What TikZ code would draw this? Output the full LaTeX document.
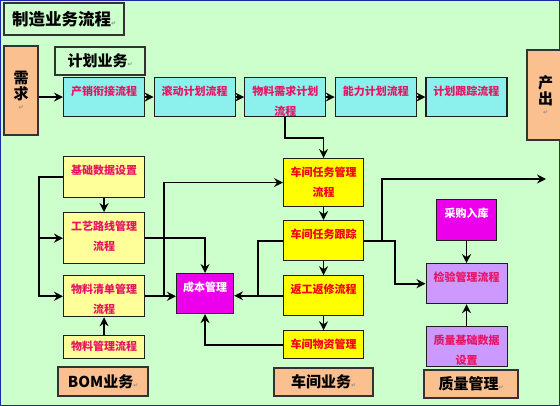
\documentclass[tikz,border=0pt]{standalone}
\usepackage{fontspec}
\setmainfont{Noto Sans CJK SC}
\newfontfamily\symfont{DejaVu Sans}
\usepackage{xcolor}
\usetikzlibrary{positioning,arrows.meta,calc}

\definecolor{bggreen}{RGB}{204,255,204}
\definecolor{planfill}{RGB}{140,240,236}
\definecolor{bomfill}{RGB}{255,255,153}
\definecolor{shopfill}{RGB}{255,255,0}
\definecolor{costfill}{RGB}{236,0,236}
\definecolor{qualfill}{RGB}{204,153,255}
\definecolor{tagfill}{RGB}{250,192,144}
\definecolor{pinktext}{RGB}{232,20,100}
\definecolor{redtext}{RGB}{245,0,20}
\definecolor{edge}{RGB}{30,30,30}
\definecolor{frameblue}{RGB}{30,40,170}

\newcommand{\ret}{{\symfont\fontsize{6}{6}\selectfont\color{black!45}↵}}

\begin{document}
\begin{tikzpicture}[
      x=1pt, y=-1pt,
      font=\bfseries,
      box/.style={draw=edge, line width=1.1pt, anchor=north west, inner sep=0pt},
      txt/.style={anchor=north, yshift=-8.5pt, align=center, inner sep=0pt,
        font=\fontsize{11}{20}\selectfont\bfseries},
      plan/.style={box, fill=planfill, minimum width=81pt, minimum height=39pt},
      plantxt/.style={txt, text=pinktext},
      bom/.style={box, fill=bomfill, minimum width=81pt},
      bomtxt/.style={txt, text=pinktext},
      shop/.style={box, fill=shopfill, minimum width=80pt},
      shoptxt/.style={txt, text=redtext},
      qual/.style={box, fill=qualfill, minimum width=81pt, minimum height=40pt},
      qualtxt/.style={txt, text=pinktext},
      cost/.style={box, fill=costfill},
      costtxt/.style={txt, text=white},
      tag/.style={draw=black!80, line width=2.2pt, anchor=north west, inner sep=0pt,
        font=\fontsize{15}{15}\selectfont\bfseries},
      flow/.style={line width=1.8pt, -{Stealth[length=9pt, width=9pt, inset=3pt]}},
      link/.style={line width=1.8pt},
    ]

    % page and frame
    \useasboundingbox (0,0) rectangle (560,406);
    \fill[bggreen] (0,0) rectangle (560,406);
    \draw[frameblue, line width=1pt] (0.5,0.5) rectangle (559.5,405.5);

    % headings
    \node[tag, fill=bggreen, minimum width=120pt, minimum height=32pt,
      font=\fontsize{16.5}{16.5}\selectfont\bfseries] (title) at (3,2) {制造业务流程\ret};
    \node[tag, fill=bggreen, minimum width=90pt, minimum height=28pt] (planTag) at (54,46) {计划业务\ret};
    \node[tag, fill=tagfill, minimum width=90pt, minimum height=29pt] (bomTag) at (57,366) {BOM业务\ret};
    \node[tag, fill=tagfill, minimum width=99pt, minimum height=28pt] (shopTag) at (273,367) {车间业务\ret};
    \node[tag, fill=tagfill, minimum width=94pt, minimum height=28pt] (qualTag) at (423,369) {质量管理\ret};

    % demand and output
    \node[tag, fill=tagfill, minimum width=34pt, minimum height=89pt, align=center,
      font=\fontsize{15}{16}\selectfont\bfseries] (need) at (3,45) {需\\求\\[-6pt]\ret};
    \node[tag, fill=tagfill, minimum width=37pt, minimum height=90pt, align=center,
      font=\fontsize{15}{16}\selectfont\bfseries] (out) at (526,49) {产\\出\\[-6pt]\ret};

    % planning row
    \node[plan, label={[plantxt]north:产销衔接流程}] (p1) at (63,77) {};
    \node[plan, right=8.5pt of p1, label={[plantxt]north:滚动计划流程}] (p2) {};
    \node[plan, right=8.5pt of p2, label={[plantxt]north:物料需求计划\\流程}] (p3) {};
    \node[plan, right=8.5pt of p3, label={[plantxt]north:能力计划流程}] (p4) {};
    \node[plan, right=8.5pt of p4, label={[plantxt]north:计划跟踪流程}] (p5) {};

    % BOM column
    \node[bom, minimum height=41pt, label={[bomtxt]north:基础数据设置}] (b1) at (63,156) {};
    \node[bom, minimum height=51pt, below=14pt of b1, label={[bomtxt]north:工艺路线管理\\流程}] (b2) {};
    \node[bom, minimum height=41pt, below=11pt of b2, label={[bomtxt]north:物料清单管理\\流程}] (b3) {};
    \node[bom, minimum height=23pt, below=18pt of b3, label={[bomtxt, yshift=3pt]north:物料管理流程}] (b4) {};

    % cost
    \node[cost, minimum width=57pt, minimum height=40pt, label={[costtxt]north:成本管理}] (cost) at (176,273) {};

    % shop column
    \node[shop, minimum height=48pt, label={[shoptxt]north:车间任务管理\\流程}] (s1) at (283,158) {};
    \node[shop, minimum height=40pt, below=13pt of s1, label={[shoptxt]north:车间任务跟踪}] (s2) {};
    \node[shop, minimum height=40pt, below=14pt of s2, label={[shoptxt]north:返工返修流程}] (s3) {};
    \node[shop, minimum height=28pt, below=14pt of s3, label={[shoptxt]north:车间物资管理}] (s4) {};

    % quality
    \node[cost, minimum width=60pt, minimum height=41pt, label={[costtxt]north:采购入库}] (purchase) at (436,199) {};
    \node[qual, below=22pt of purchase, label={[qualtxt]north:检验管理流程}] (inspect) {};
    \node[qual, below=22pt of inspect, label={[qualtxt]north:质量基础数据\\设置}] (qbase) {};

    % planning flow
    \draw[flow] (need.east |- p1.west) -- (p1.west);
    \foreach \a/\b in {p1/p2, p2/p3, p3/p4, p4/p5}
      \draw[flow] (\a) -- (\b);
    \draw[flow] (p3.south) -- ++(0,21) -| (s1.north);

    % BOM flow
    \draw[flow] (b1) -- (b2);
    \draw[flow] (b4) -- (b3);
    \coordinate (bomBus) at ($(b1.west)+(-24,0)$);
    \draw[flow] (b1.west) -- (bomBus) |- (b3.west);
    \draw[flow] (bomBus |- b2.west) -- (b2.west);
    \draw[flow] (b2.east) -| (cost.north);
    \draw[flow] (b3.east) -- (b3.east -| cost.west);
    \coordinate (costJoin) at ($(b3.east)+(19,0)$);
    \draw[flow] (costJoin) |- (s1.west);

    % shop flow
    \foreach \a/\b in {s1/s2, s2/s3, s3/s4}
      \draw[flow] (\a) -- (\b);
    \coordinate (shopJoin) at ($(s3.west)+(-25,0)$);
    \draw[link] (s2.west) -| (shopJoin);
    \draw[flow] (s3.west) -- (s3.west -| cost.east);
    \draw[flow] (s4.west) -| (cost.south);

    % quality flow
    \coordinate (outJoin) at ($(s2.east)+(18,0)$);
    \coordinate (qJoin)   at ($(s2.east)+(31,0)$);
    \coordinate (outEnd)  at (546,179);
    \draw[flow] (s2.east) -- (outJoin) |- (outEnd);
    \draw[flow] (s2.east) -- (qJoin) |- (inspect.west);
    \draw[flow] (purchase.south) -- (purchase.south |- inspect.north);
    \draw[flow] (qbase.north) -- (qbase.north |- inspect.south);

  \end{tikzpicture}
\end{document}
